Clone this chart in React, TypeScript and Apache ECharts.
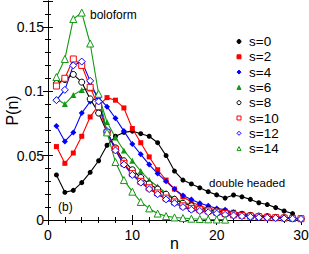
import React, { useEffect, useRef } from "react";
import * as echarts from "echarts";

const nAll = Array.from({ length: 30 }, (_, i) => i + 1);

const s0 = [0.035, 0.0215, 0.023, 0.029, 0.037, 0.046, 0.058, 0.065, 0.068, 0.069, 0.067, 0.065, 0.060, 0.050, 0.038, 0.031, 0.028, 0.025, 0.022, 0.0195, 0.017, 0.0194, 0.018, 0.016, 0.0134, 0.012, 0.0096, 0.007, 0.005];
const s2 = [0.057, 0.044, 0.052, 0.065, 0.080, 0.089, 0.095, 0.093, 0.087, 0.071, 0.060, 0.049, 0.039, 0.031, 0.024, 0.018, 0.014, 0.011, 0.009, 0.008, 0.007, 0.006, 0.005, 0.004, 0.0035, 0.003, 0.0025, 0.002, 0.0015, 0.001];
const s4 = [0.073, 0.061, 0.068, 0.083, 0.092, 0.095, 0.088, 0.079, 0.069, 0.059, 0.051, 0.043, 0.036, 0.030, 0.024, 0.019, 0.016, 0.013, 0.011, 0.009, 0.008, 0.006, 0.005, 0.004, 0.0035, 0.003, 0.0025, 0.002, 0.0015, 0.001];
const s6 = [0.094, 0.090, 0.097, 0.101, 0.102, 0.097, 0.076, 0.064, 0.054, 0.046, 0.038, 0.031, 0.026, 0.021, 0.017, 0.014, 0.012, 0.010, 0.008, 0.007, 0.006, 0.005, 0.004, 0.0035, 0.003, 0.0025, 0.002, 0.0015, 0.0012, 0.001];
const s8 = [0.106, 0.109, 0.113, 0.107, 0.094, 0.083, 0.068, 0.056, 0.046, 0.039, 0.033, 0.028, 0.024, 0.020, 0.016, 0.013, 0.011, 0.009, 0.008, 0.007, 0.006, 0.005, 0.004, 0.0035, 0.003, 0.0025, 0.002, 0.0018, 0.0015, 0.001];
const s10 = [0.104, 0.110, 0.125, 0.120, 0.103, 0.088, 0.068, 0.055, 0.044, 0.036, 0.030, 0.025, 0.021, 0.017, 0.014, 0.011, 0.009, 0.008, 0.007, 0.006, 0.005, 0.004, 0.0035, 0.003, 0.0025, 0.002, 0.0018, 0.0015, 0.0012, 0.001];
const s12 = [0.093, 0.101, 0.120, 0.123, 0.108, 0.092, 0.069, 0.054, 0.043, 0.035, 0.029, 0.024, 0.020, 0.016, 0.013, 0.010, 0.008, 0.007, 0.006, 0.005, 0.004, 0.0035, 0.003, 0.0025, 0.002, 0.0018, 0.0015, 0.0012, 0.001, 0.0008];
const s14 = [0.111, 0.125, 0.156, 0.161, 0.137, 0.098, 0.068, 0.045, 0.031, 0.022, 0.014, 0.009, 0.005, 0.003, 0.002, 0.0015, 0.001, 0.0008, 0.0005, 0.0004, 0.0003];

const yTickLabels = ["0", "0.05", "0.1", "0.15"];
const xTickLabels = ["0", "10", "20", "30"];

const BLACK = "#000000";
const RED = "#ff0000";
const BLUE = "#0000ff";
const GREEN = "#129812";
const FONT = "'Liberation Sans', Arial, sans-serif";

const seriesDefs = [
  { name: "s=0", data: s0, color: BLACK, symbol: "circle", size: 5, empty: false },
  { name: "s=2", data: s2, color: RED, symbol: "rect", size: 5, empty: false },
  { name: "s=4", data: s4, color: BLUE, symbol: "diamond", size: 6, empty: false },
  { name: "s=6", data: s6, color: GREEN, symbol: "triangle", size: 6, empty: false },
  { name: "s=8", data: s8, color: BLACK, symbol: "circle", size: 6, empty: true },
  { name: "s=10", data: s10, color: RED, symbol: "rect", size: 6, empty: true },
  { name: "s=12", data: s12, color: BLUE, symbol: "diamond", size: 7, empty: true },
  { name: "s=14", data: s14, color: GREEN, symbol: "triangle", size: 7, empty: true },
];

export default function App() {
  const ref = useRef<HTMLDivElement>(null);
  useEffect(() => {
    if (!ref.current) return;
    const chart = echarts.init(ref.current, undefined, { renderer: "svg" });
    const axisCommon = {
      axisLine: { show: true, lineStyle: { color: "#000", width: 1 } },
      splitLine: { show: false },
    };
    const tick = { show: true, inside: true, length: 5, lineStyle: { color: "#000" } };
    const minor = { show: true, splitNumber: 5, length: 3, lineStyle: { color: "#000" } };
    chart.setOption({
      animation: false,
      backgroundColor: "#fff",
      grid: { left: 48, right: 8, top: 1, bottom: 34, containLabel: false, outerBoundsMode: "none" },
      legend: {
        orient: "vertical",
        left: 228,
        top: 29.5,
        itemWidth: 10,
        itemHeight: 5,
        itemGap: 1.3,
        lineStyle: { opacity: 0 },
        itemStyle: { borderWidth: 1 },
        textStyle: { fontFamily: FONT, fontSize: 13.5, color: "#000", lineHeight: 13.5 },
        data: seriesDefs.map((s) => s.name),
      },
      xAxis: [
        {
          type: "value",
          min: 0,
          max: 30,
          interval: 10,
          position: "bottom",
          name: "n",
          nameLocation: "middle",
          nameGap: 15,
          nameMoveOverlap: false,
          nameTextStyle: { fontFamily: FONT, fontSize: 16, color: "#000", verticalAlign: "top" },
          axisTick: tick,
          minorTick: minor,
          axisLabel: {
            fontFamily: FONT,
            fontSize: 14,
            color: "#000",
            margin: 8,
            formatter: (v: number) => xTickLabels[Math.round(v / 10)] ?? "",
          },
          ...axisCommon,
        },
        {
          type: "value",
          min: 0,
          max: 30,
          interval: 10,
          position: "top",
          axisTick: tick,
          minorTick: minor,
          axisLabel: { show: false },
          ...axisCommon,
        },
      ],
      yAxis: [
        {
          type: "value",
          min: 0,
          max: 0.17,
          interval: 0.05,
          position: "left",
          name: "P(n)",
          nameLocation: "middle",
          nameGap: 28,
          nameMoveOverlap: false,
          nameTextStyle: { fontFamily: FONT, fontSize: 16, color: "#000" },
          axisTick: tick,
          minorTick: minor,
          axisLabel: {
            fontFamily: FONT,
            fontSize: 14,
            color: "#000",
            margin: 4,
            showMaxLabel: false,
            formatter: (v: number) => {
              const i = Math.round(v / 0.05);
              return Math.abs(v - i * 0.05) < 1e-6 ? yTickLabels[i] ?? "" : "";
            },
          },
          ...axisCommon,
        },
        {
          type: "value",
          min: 0,
          max: 0.17,
          interval: 0.05,
          position: "right",
          axisTick: tick,
          minorTick: minor,
          axisLabel: { show: false },
          ...axisCommon,
        },
      ],
      series: seriesDefs.map((s) => ({
        name: s.name,
        type: "line",
        xAxisIndex: 0,
        yAxisIndex: 0,
        data: s.data.map((v, i) => [nAll[i], v]),
        symbol: s.symbol,
        symbolSize: s.size,
        showAllSymbol: true,
        lineStyle: { color: s.color, width: 1.1 },
        itemStyle: s.empty
          ? { color: "#fff", borderColor: s.color, borderWidth: 1 }
          : { color: s.color, borderColor: s.color, borderWidth: 0 },
        emphasis: { disabled: true },
      })),
      graphic: [
        { type: "text", x: 90, y: 9, style: { text: "boloform", fontFamily: FONT, fontSize: 12, fill: "#000" } },
        { type: "text", x: 209, y: 177, style: { text: "double headed", fontFamily: FONT, fontSize: 11.5, fill: "#000" } },
        { type: "text", x: 58, y: 201, style: { text: "(b)", fontFamily: FONT, fontSize: 12, fill: "#000" } },
      ],
    });
    return () => chart.dispose();
  }, []);
  return <div ref={ref} style={{ position: "fixed", left: 0, top: 0, width: 309, height: 254 }} />;
}
